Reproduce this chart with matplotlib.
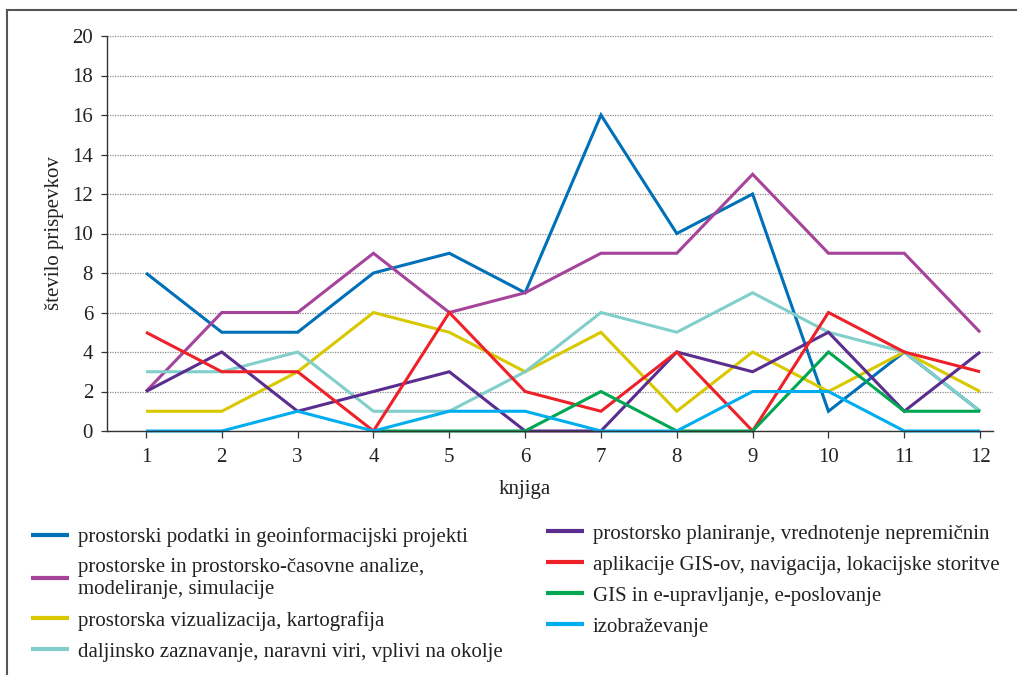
import numpy as np
import matplotlib
matplotlib.use("Agg")
import matplotlib.pyplot as plt
from matplotlib.lines import Line2D

plt.rcParams['font.family'] = ['Liberation Serif', 'DejaVu Serif']

knjiga = list(range(1, 13))
podatki = [8, 5, 5, 8, 9, 7, 16, 10, 12, 1, 4, 1]
analize = [2, 6, 6, 9, 6, 7, 9, 9, 13, 9, 9, 5]
vizualizacija = [1, 1, 3, 6, 5, 3, 5, 1, 4, 2, 4, 2]
daljinsko = [3, 3, 4, 1, 1, 3, 6, 5, 7, 5, 4, 1]
planiranje = [2, 4, 1, 2, 3, 0, 0, 4, 3, 5, 1, 4]
aplikacije = [5, 3, 3, 0, 6, 2, 1, 4, 0, 6, 4, 3]
upravljanje = [np.nan, np.nan, np.nan, 0, 0, 0, 2, 0, 0, 4, 1, 1]
izobrazevanje = [0, 0, 1, 0, 1, 1, 0, 0, 2, 2, 0, 0]

labels = [
    "prostorski podatki in geoinformacijski projekti",
    "prostorske in prostorsko-časovne analize,\nmodeliranje, simulacije",
    "prostorska vizualizacija, kartografija",
    "daljinsko zaznavanje, naravni viri, vplivi na okolje",
    "prostorsko planiranje, vrednotenje nepremičnin",
    "aplikacije GIS-ov, navigacija, lokacijske storitve",
    "GIS in e-upravljanje, e-poslovanje",
    "izobraževanje",
]
series = [podatki, analize, vizualizacija, daljinsko, planiranje, aplikacije, upravljanje, izobrazevanje]
colors = ["#0070b8", "#a5449a", "#d8c800", "#80cfcb", "#5b2d8e", "#ee2129", "#00a651", "#00aeef"]

W, H = 1017, 675
fig = plt.figure(figsize=(W / 100, H / 100), dpi=100)
ax = fig.add_axes([107 / W, 1 - 431 / H, (993 - 107) / W, (431 - 36) / H])

lines = []
for vals, c, lab in zip(series, colors, labels):
    ln, = ax.plot(knjiga, vals, color=c, lw=2.2, label=lab, solid_capstyle='butt',
                  solid_joinstyle='miter', clip_on=False)
    lines.append(ln)

ax.set_ylim(0, 20)
ax.set_xlim(0.486, 12.17)
ax.set_yticks(range(0, 21, 2))
ax.set_xticks(knjiga)
ax.yaxis.grid(True, linestyle=(0, (1, 1)), color="#8c8c8c", lw=0.9)
ax.set_axisbelow(True)
for s in ["top", "right"]:
    ax.spines[s].set_visible(False)
for s in ["left", "bottom"]:
    ax.spines[s].set_color("#333333")
    ax.spines[s].set_linewidth(1.0)
ax.tick_params(axis='both', colors="#333333", labelcolor="#222222", labelsize=15, width=0.9)
ax.tick_params(axis='x', length=5, pad=7)
ax.tick_params(axis='y', length=4, pad=6)

ax.set_xlabel("knjiga", fontsize=15, color="#222222")
ax.xaxis.set_label_coords((525 - 107) / 886, (431 - 480) / 395)
ax.set_ylabel("število prispevkov", fontsize=15, color="#222222")
ax.yaxis.set_label_coords((64 - 107) / 886, 0.5)

leg_kw = dict(frameon=False, fontsize=15, handlelength=1.8, handletextpad=0.45,
              labelspacing=0.55, borderpad=0, borderaxespad=0, labelcolor="#222222")
leg1 = fig.legend(handles=lines[:4], loc='upper left', bbox_to_anchor=(31 / W, 1 - 527 / H), **leg_kw)
leg2 = fig.legend(handles=lines[4:], loc='upper left', bbox_to_anchor=(546 / W, 1 - 524 / H), **leg_kw)
for leg in (leg1, leg2):
    for h in leg.legend_handles:
        h.set_linewidth(3)

# outer frame (top and left edges)
fig.add_artist(Line2D([7 / W, 1], [1 - 10 / H, 1 - 10 / H], color="#555555", lw=1.5, transform=fig.transFigure))
fig.add_artist(Line2D([7 / W, 7 / W], [0, 1 - 10 / H], color="#555555", lw=1.5, transform=fig.transFigure))

fig.savefig("out.png", dpi=100)
